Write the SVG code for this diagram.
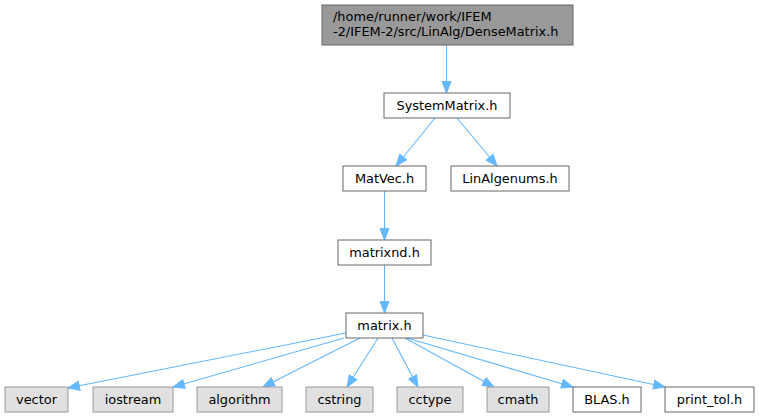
<svg xmlns="http://www.w3.org/2000/svg" width="759" height="417" viewBox="0 0 759 417">
<style>
text{font-family:"DejaVu Sans",sans-serif;font-size:12.9px;fill:#000}
.c text{text-anchor:middle}
.n rect{fill:#fff;stroke:#666;stroke-width:1}
.g rect{fill:#e0e0e0;stroke:#999;stroke-width:1}
.r rect{fill:#999;stroke:#666;stroke-width:1}
.e line{stroke:#63b8ff;stroke-width:1.1;marker-end:url(#a)}
</style>
<defs>
<marker id="a" markerUnits="userSpaceOnUse" markerWidth="13" markerHeight="11" refX="12" refY="5" orient="auto" viewBox="0 0 13 10">
<path d="M0.5,0.5 L12,5 L0.5,9.5 z" fill="#63b8ff" stroke="#63b8ff"/>
</marker>
</defs>
<g id="edges" class="e">
<line x1="446.5" y1="45" x2="446.5" y2="93"/>
<line x1="435" y1="118" x2="396" y2="166"/>
<line x1="457" y1="118" x2="497" y2="166"/>
<line x1="384.5" y1="191" x2="384.5" y2="240"/>
<line x1="384.5" y1="265" x2="384.5" y2="313"/>
<line x1="346" y1="333" x2="68" y2="388"/>
<line x1="344" y1="338" x2="173" y2="387"/>
<line x1="360" y1="338" x2="263" y2="387"/>
<line x1="378" y1="338" x2="347" y2="387"/>
<line x1="392" y1="338" x2="418" y2="387"/>
<line x1="405" y1="338" x2="494" y2="387"/>
<line x1="407" y1="338" x2="573" y2="387"/>
<line x1="423" y1="335" x2="665" y2="387"/>
</g>
<g id="DenseMatrix" class="r"><rect x="322" y="5" width="251" height="40"/><text x="333" y="21">/home/runner/work/IFEM</text><text x="333" y="36">-2/IFEM-2/src/LinAlg/DenseMatrix.h</text></g>
<g id="SystemMatrix" class="n c"><rect x="384" y="93" width="126" height="25"/><text x="447" y="110">SystemMatrix.h</text></g>
<g id="MatVec" class="n c"><rect x="343" y="166" width="83" height="25"/><text x="384.5" y="183">MatVec.h</text></g>
<g id="LinAlgenums" class="n c"><rect x="451" y="166" width="118" height="25"/><text x="510" y="183">LinAlgenums.h</text></g>
<g id="matrixnd" class="n c"><rect x="338" y="240" width="93" height="25"/><text x="384.5" y="257">matrixnd.h</text></g>
<g id="matrix" class="n c"><rect x="346" y="313" width="77" height="25"/><text x="384.5" y="330">matrix.h</text></g>
<g id="vector" class="g c"><rect x="5" y="387" width="63" height="25"/><text x="36.5" y="404">vector</text></g>
<g id="iostream" class="g c"><rect x="93" y="387" width="80" height="25"/><text x="133" y="404">iostream</text></g>
<g id="algorithm" class="g c"><rect x="197" y="387" width="85" height="25"/><text x="239.5" y="404">algorithm</text></g>
<g id="cstring" class="g c"><rect x="306" y="387" width="67" height="25"/><text x="339.5" y="404">cstring</text></g>
<g id="cctype" class="g c"><rect x="397" y="387" width="66" height="25"/><text x="430" y="404">cctype</text></g>
<g id="cmath" class="g c"><rect x="487" y="387" width="62" height="25"/><text x="518" y="404">cmath</text></g>
<g id="BLAS" class="n c"><rect x="573" y="387" width="68" height="25"/><text x="607" y="404">BLAS.h</text></g>
<g id="print_tol" class="n c"><rect x="665" y="387" width="89" height="25"/><text x="709.5" y="404">print_tol.h</text></g>
</svg>
